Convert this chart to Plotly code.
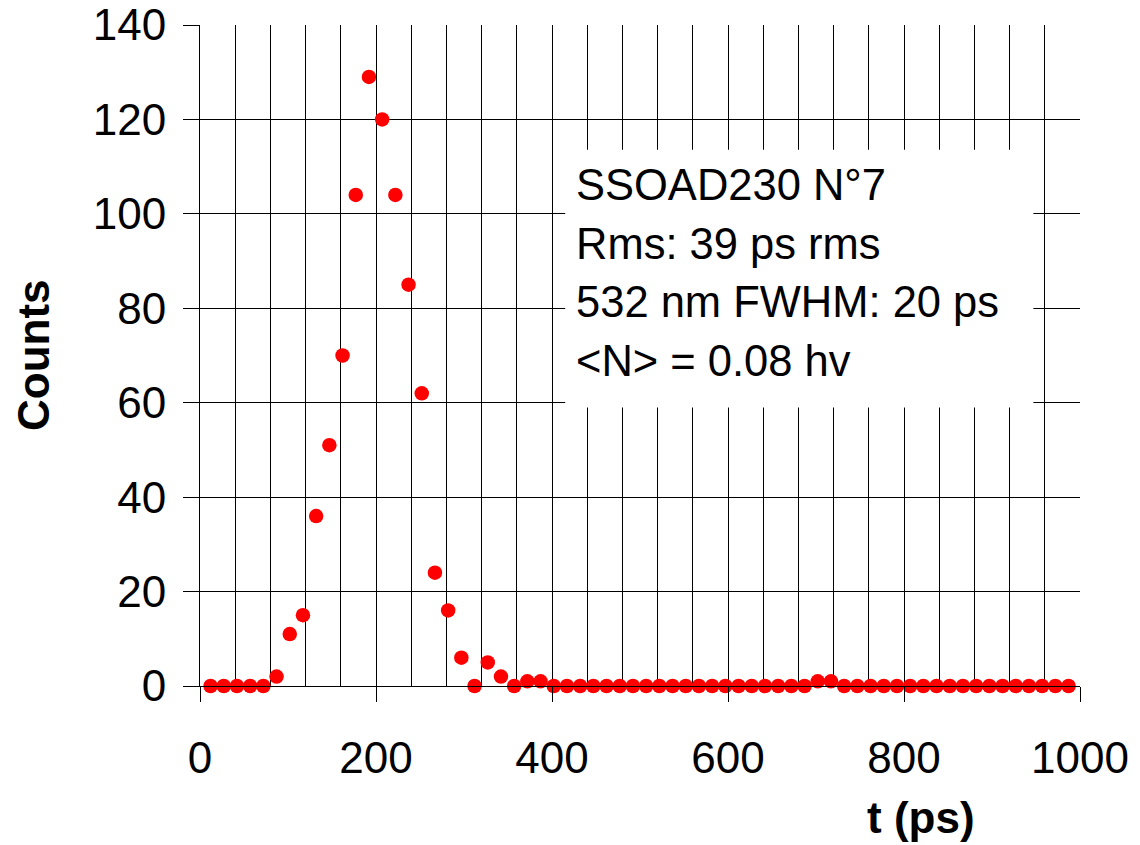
import plotly.graph_objects as go

# Data: time bins (ps) and counts
t_ps = [12 + 15 * i for i in range(66)]
counts = [0, 0, 0, 0, 0, 2, 11, 15, 36, 51, 70, 104, 129, 120, 104, 85, 62, 24, 16, 6,
          0, 5, 2, 0, 1, 1, 0, 0, 0, 0, 0, 0, 0, 0, 0, 0, 0, 0, 0, 0,
          0, 0, 0, 0, 0, 0, 1, 1, 0, 0, 0, 0, 0, 0, 0, 0, 0, 0, 0, 0,
          0, 0, 0, 0, 0, 0]
x_ticks = [0, 200, 400, 600, 800, 1000]
y_ticks = [0, 20, 40, 60, 80, 100, 120, 140]
info_lines = ["SSOAD230 N°7", "Rms: 39 ps rms", "532 nm FWHM: 20 ps", "<N> = 0.08 hv"]

FONT = "Liberation Sans, Arial, sans-serif"

fig = go.Figure()
fig.add_trace(go.Scatter(
    x=t_ps, y=counts, mode="markers",
    marker=dict(color="#FF0000", size=14.5, line=dict(width=0)),
    cliponaxis=False, showlegend=False,
))

fig.update_layout(
    width=1140, height=845,
    margin=dict(l=200, r=60, t=25, b=159),
    paper_bgcolor="white", plot_bgcolor="white",
    font=dict(family=FONT, size=44, color="black"),
    xaxis=dict(
        range=[0, 1000], tickvals=x_ticks, ticktext=[str(v) for v in x_ticks],
        showgrid=True, gridcolor="black", gridwidth=1,
        minor=dict(dtick=40, showgrid=True, gridcolor="black", gridwidth=1, ticks=""),
        ticks="outside", ticklen=15, tickcolor="black", tickwidth=1,
        showline=True, linecolor="black", linewidth=1,
        zeroline=False, ticklabelstandoff=18, automargin=False,
        tickfont=dict(size=44),
    ),
    yaxis=dict(
        range=[0, 140], tickvals=y_ticks, ticktext=[str(v) for v in y_ticks],
        showgrid=True, gridcolor="black", gridwidth=1,
        ticks="outside", ticklen=16, tickcolor="black", tickwidth=1,
        showline=True, linecolor="black", linewidth=1,
        zeroline=False, ticklabelstandoff=8, automargin=False,
        tickfont=dict(size=44),
    ),
)

# White info box over the grid
fig.add_shape(type="rect", xref="x", yref="y", x0=415, x1=947, y0=59, y1=113.6,
              fillcolor="white", line=dict(width=0), layer="between")

line_y = [106.2, 93.7, 81.3, 68.8]
for txt, yy in zip(info_lines, line_y):
    fig.add_annotation(x=425, y=yy, xref="x", yref="y", text=txt.replace("<", "&lt;").replace(">", "&gt;"),
                       showarrow=False, xanchor="left", yanchor="middle",
                       font=dict(size=43.5, family=FONT, color="black"))

# Axis titles
fig.add_annotation(xref="paper", yref="paper", x=(33 - 200) / 880, y=(686 - 355) / 661,
                   text="<b>Counts</b>", showarrow=False, textangle=-90,
                   xanchor="center", yanchor="middle", font=dict(size=44, family=FONT))
fig.add_annotation(xref="paper", yref="paper", x=(921 - 200) / 880, y=(686 - 817) / 661,
                   text="<b>t (ps)</b>", showarrow=False, xanchor="center", yanchor="middle",
                   font=dict(size=44, family=FONT))

fig.write_html("out.html")
